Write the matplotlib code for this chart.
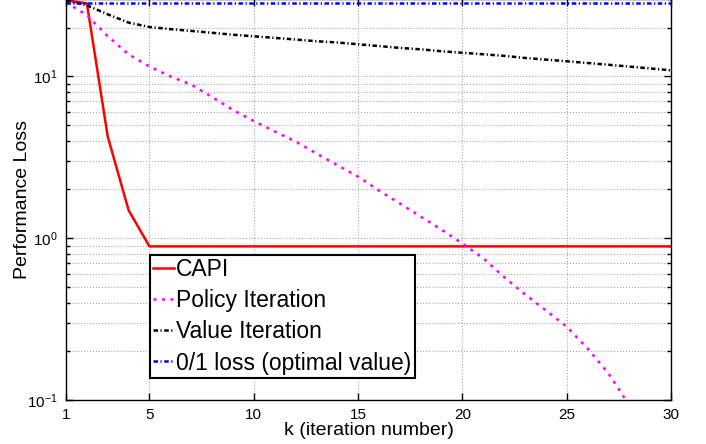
import matplotlib
matplotlib.use("Agg")
import matplotlib.pyplot as plt
from matplotlib.ticker import LogLocator, FixedLocator

plt.rcParams['font.family'] = ['Liberation Sans', 'DejaVu Sans']
plt.rcParams['mathtext.fontset'] = 'custom'
plt.rcParams['mathtext.rm'] = 'Liberation Sans'
plt.rcParams['mathtext.it'] = 'Liberation Sans:italic'
plt.rcParams['mathtext.bf'] = 'Liberation Sans:bold'

k = list(range(1, 31))
capi = [29.5, 28.3, 4.25, 1.49, 0.89, 0.89, 0.89, 0.89, 0.89, 0.89,
        0.89, 0.89, 0.89, 0.89, 0.89, 0.89, 0.89, 0.89, 0.89, 0.89,
        0.89, 0.89, 0.89, 0.89, 0.89, 0.89, 0.89, 0.89, 0.89, 0.89]
policy = [28.7, 23.9, 17.7, 13.7, 11.5, 10.0, 8.9, 7.46, 6.2, 5.3,
          4.57, 3.96, 3.34, 2.83, 2.40, 1.97, 1.64, 1.36, 1.13, 0.927,
          0.752, 0.575, 0.45, 0.358, 0.284, 0.208, 0.146, 0.093, 0.055, 0.03]
value = [29.5, 27.5, 24.2, 21.5, 20.2, 19.6, 19.1, 18.6, 18.1, 17.7,
         17.3, 16.9, 16.5, 16.2, 15.8, 15.4, 15.0, 14.7, 14.3, 14.0,
         13.7, 13.4, 13.0, 12.7, 12.4, 12.1, 11.8, 11.5, 11.2, 10.9]
optimal = [28.3] * 30

labels = ['CAPI', 'Policy Iteration', 'Value Iteration', '0/1 loss (optimal value)']
xticks = [1, 5, 10, 15, 20, 25, 30]

fig = plt.figure(figsize=(7.06, 4.44), dpi=100)
ax = fig.add_axes([66/706, 44/444, 605/706, 400.8/444])

lw = 1.8
ax.plot(k, capi, color='#ff0000', lw=lw, linestyle='-', label=labels[0])
ax.plot(k, policy, color='#ff00ff', lw=lw, linestyle=(0, (1.2, 2.2)), label=labels[1])
ax.plot(k, value, color='black', lw=lw, linestyle=(0, (1.8, 1.0, 0.5, 1.0)), label=labels[2])
ax.plot(k, optimal, color='#0000ff', lw=lw, linestyle=(0, (1.8, 1.0, 0.5, 1.0)), label=labels[3])

ax.set_yscale('log')
ax.set_ylim(0.1, 30)
ax.set_xlim(1, 30)
ax.xaxis.set_major_locator(FixedLocator(xticks))
ax.set_xticklabels([str(t) for t in xticks])
ax.yaxis.set_major_locator(LogLocator(base=10, numticks=10))
ax.yaxis.set_minor_locator(LogLocator(base=10, subs=range(2, 10), numticks=20))

ax.grid(True, which='major', axis='both', color='#a8a8a8', linestyle=':', lw=0.8)
ax.grid(True, which='minor', axis='y', color='#a8a8a8', linestyle=':', lw=0.8)

ax.tick_params(which='both', direction='in', top=True, right=True, labelsize=11, width=1.0)
ax.tick_params(which='major', length=5, pad=6)
ax.tick_params(which='minor', length=3)
ax.tick_params(axis='x', which='minor', bottom=False, top=False)
for s in ax.spines.values():
    s.set_linewidth(1.0)

ax.set_xlabel('k (iteration number)', fontsize=14, labelpad=0)
ax.set_ylabel('Performance Loss', fontsize=14, labelpad=-3)

leg = ax.legend(loc='lower left', bbox_to_anchor=(0.1388, 0.055), fontsize=16.5,
                handlelength=0.9, handletextpad=0.1, labelspacing=0.35,
                borderpad=0.15, borderaxespad=0, fancybox=False, framealpha=1,
                edgecolor='black')
leg.get_frame().set_linewidth(1.5)

fig.savefig('out.png', dpi=100)
